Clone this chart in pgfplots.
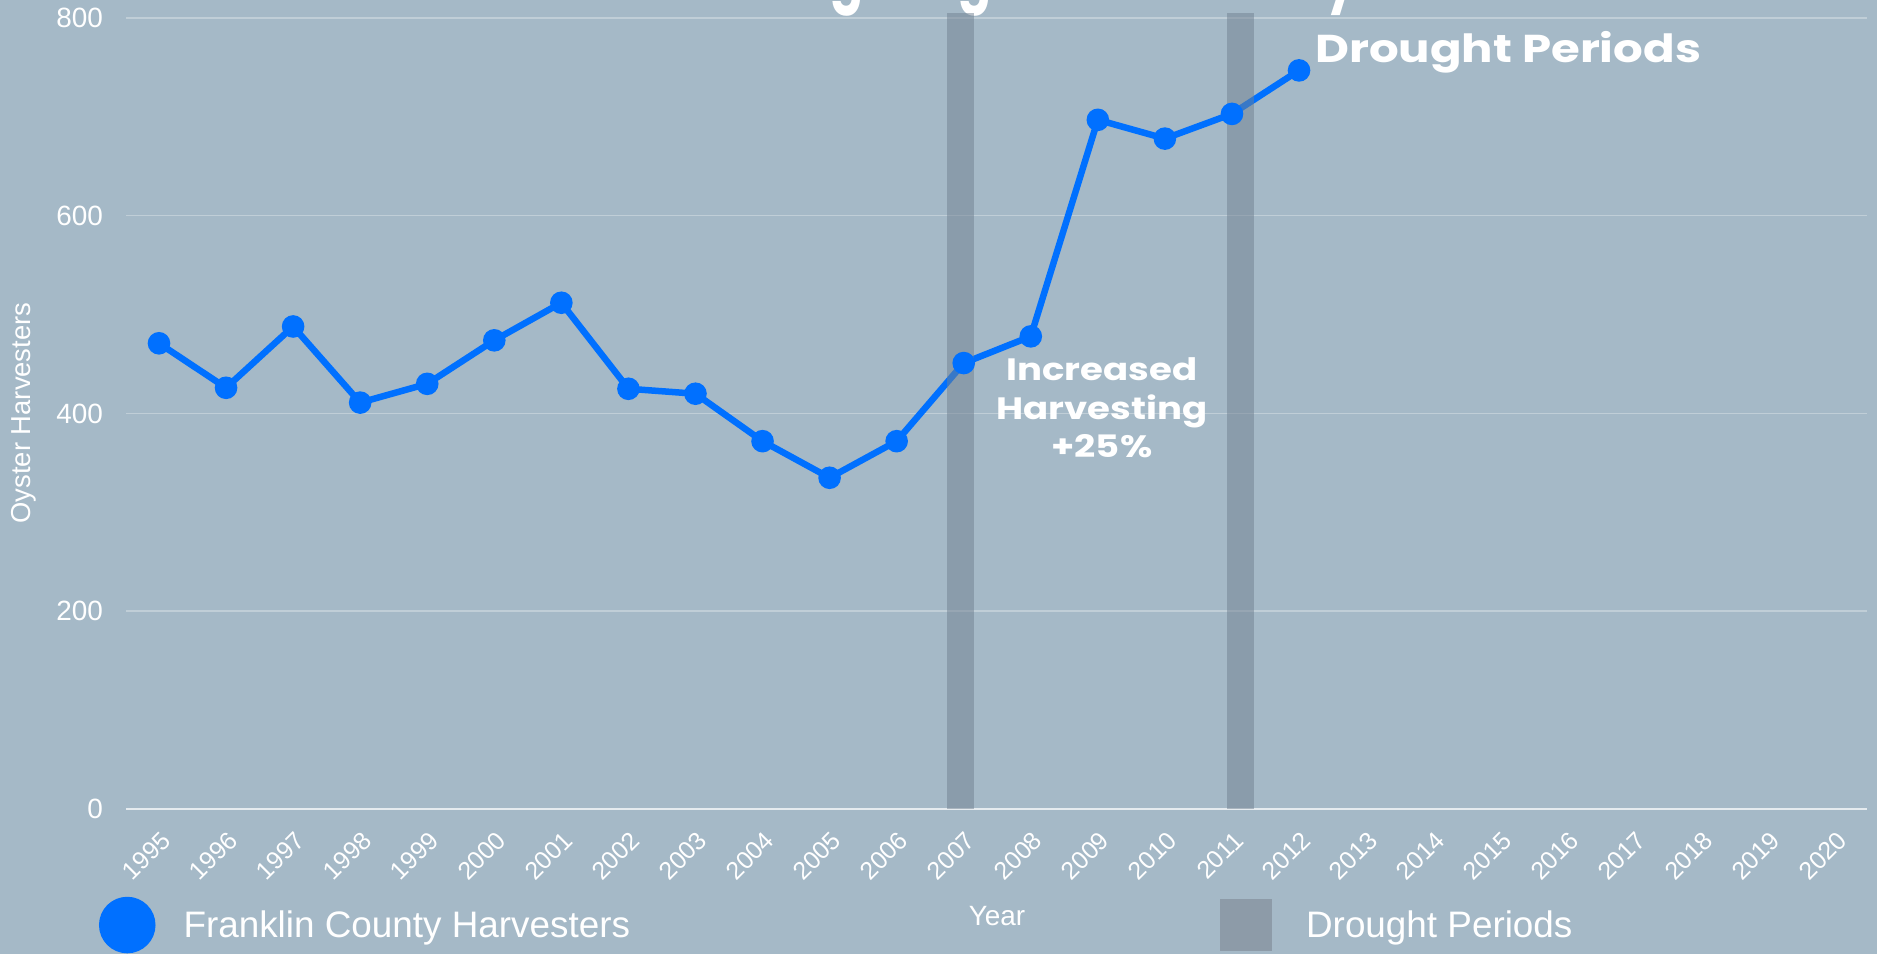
\documentclass[border=0pt]{standalone}
\usepackage{fontspec}
\setmainfont{Liberation Sans}
\newfontfamily\popfont{Poppins}[FakeStretch=1.2]
\newfontfamily\poptitle{Poppins}
\usepackage{pgfplots}
\pgfplotsset{compat=1.18}
\definecolor{bg}{HTML}{A5B9C7}
\definecolor{lineblue}{HTML}{0070FF}
\definecolor{bargray}{HTML}{708090}
\definecolor{legbar}{RGB}{141,155,168}
\begin{document}
\begin{tikzpicture}[x=1bp,y=1bp]
\fill[bg] (-5,-5) rectangle (1882,1000);
\node[anchor=base west, text=white, font=\poptitle\bfseries\fontsize{49}{56}\selectfont, inner sep=0pt] at (586,955) {\scalebox{1}[1.4]{Harvesting Surge Amid the Dry Years}};
\begin{axis}[
  at={(126bp,144bp)}, anchor=south west,
  scale only axis, width=1741bp, height=791bp,
  xmin=1994.508, xmax=2020.47, ymin=0, ymax=800,
  clip=false,
  axis x line*=bottom, axis y line*=left,
  x axis line style={white, opacity=0.6, line width=1.5bp, -},
  y axis line style={draw=none},
  major tick length=0pt,
  xtick={1995,1996,...,2020}, ytick={0,200,400,600,800},
  ymajorgrids, major grid style={white, opacity=0.3, line width=1.5bp},
  /pgf/number format/1000 sep={}, /pgf/number format/assume math mode=true,
  yticklabel style={anchor=east, inner sep=0pt, xshift=-23bp, font=\fontsize{28}{33}\selectfont, text=white},
  xticklabel style={xshift=7bp, yshift=-27bp, rotate=45, anchor=east, inner sep=0pt, font=\fontsize{25}{30}\selectfont, text=white},
  xlabel={Year}, xlabel style={at={(axis description cs:0.5003,-0.1353)}, anchor=center, font=\fontsize{28}{34}\selectfont, text=white},
  ylabel={Oyster Harvesters}, ylabel style={at={(axis description cs:-0.0586,0.5006)}, anchor=center, font=\fontsize{27.5}{33}\selectfont, text=white},
  legend columns=2,
  legend cell align=left,
  legend style={at={(axis description cs:-0.0155,-0.1467)}, anchor=west, draw=none, fill=none, inner sep=0pt, outer sep=0pt, font=\fontsize{37}{44}\selectfont, text=white, nodes={inner sep=0pt}, /tikz/every odd column/.append style={column sep=28bp}, /tikz/every even column/.append style={column sep=590bp}},
]
\addplot[lineblue, line width=6.5bp, mark=*, mark size=8bp, mark options={solid, fill=lineblue, draw=none},
  legend image code/.code={\fill[lineblue] (25bp,0bp) circle (25bp);}] coordinates {
 (1995,471) (1996,426) (1997,488) (1998,411) (1999,430) (2000,474) (2001,512) (2002,425) (2003,420) (2004,372) (2005,335) (2006,372) (2007,451) (2008,478) (2009,697) (2010,678) (2011,703) (2012,747)};
\addlegendentry{Franklin County Harvesters}
\addplot[fill=bargray, fill opacity=0.5, draw=none,
  legend image code/.code={\fill[legbar, fill opacity=1] (0bp,-26bp) rectangle (52bp,26bp); \path (58bp,0bp);}] coordinates {(2006.75,0) (2007.15,0) (2007.15,805.4) (2006.75,805.4)} -- cycle;
\addlegendentry{Drought Periods}
\addplot[fill=bargray, fill opacity=0.5, draw=none, forget plot] coordinates {(2010.93,0) (2011.33,0) (2011.33,805.4) (2010.93,805.4)} -- cycle;
\node[anchor=base west, inner sep=0pt, text=white, font=\popfont\bfseries\fontsize{39}{45}\selectfont] at (axis cs:2012.24,754.5) {Drought Periods};
\node[anchor=north, inner sep=0pt, align=center, text=white, font=\popfont\bfseries\fontsize{31}{39}\selectfont] at (axis cs:2009.06,457) {Increased\\Harvesting\\+25\%};
\end{axis}
\pgfresetboundingbox
\path[use as bounding box] (0,0) rectangle (1877,953);
\end{tikzpicture}
\end{document}
